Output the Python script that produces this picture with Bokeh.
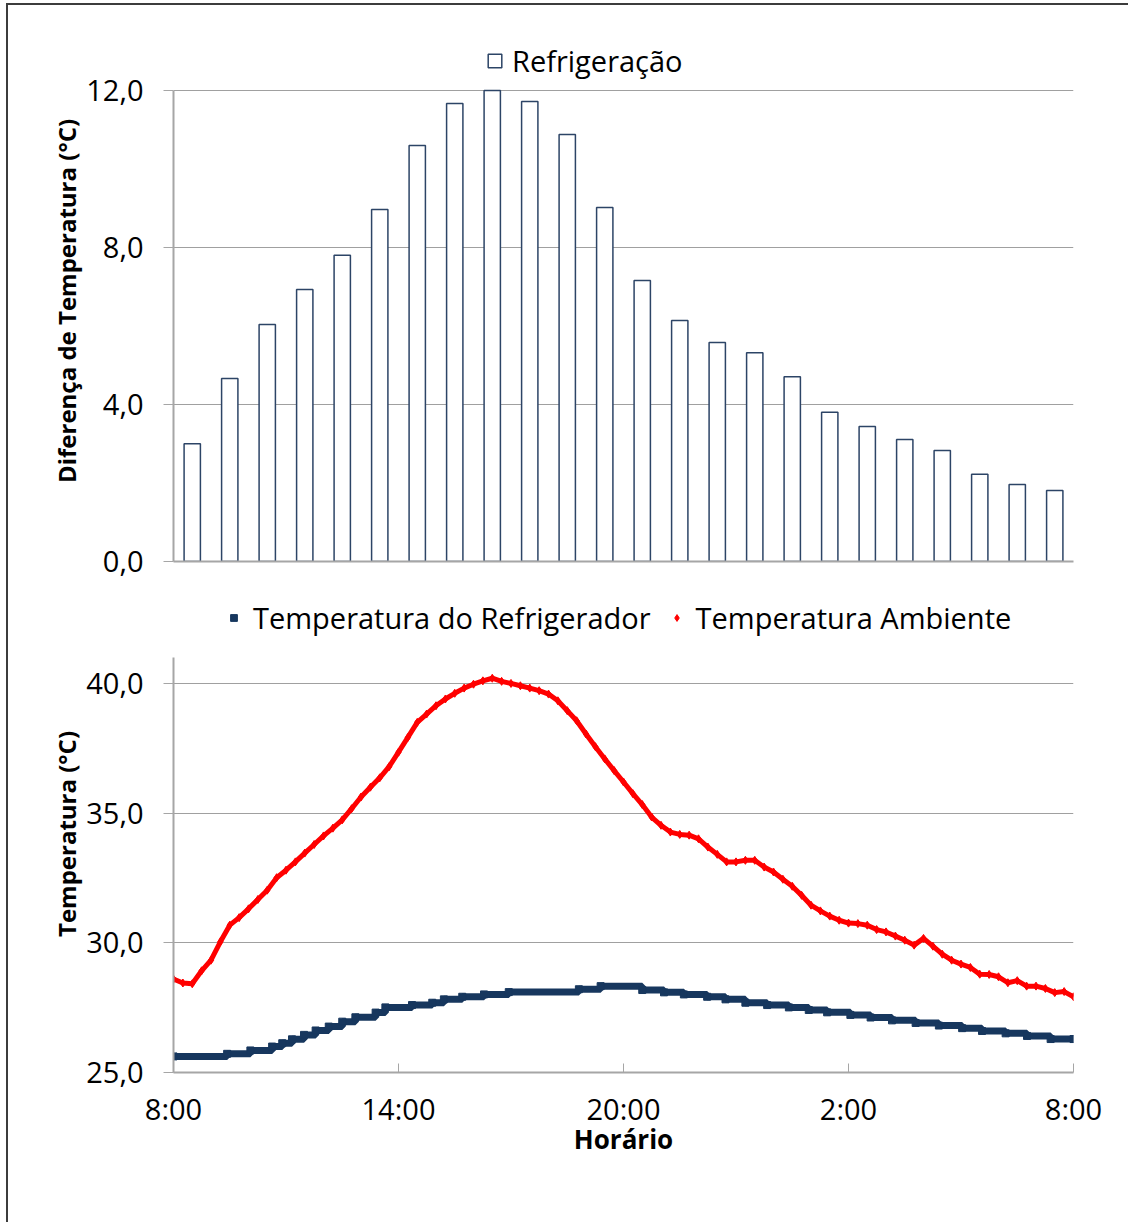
from bokeh.plotting import figure
from bokeh.layouts import column
from bokeh.models import FixedTicker, Legend, LegendItem, Range1d
from bokeh.embed import file_html
from bokeh.resources import INLINE

FONT = "Open Sans"

# ---- top chart data ----
bar_hours = list(range(1, 25))
diff_temp = [3.00, 4.66, 6.04, 6.93, 7.80, 8.97, 10.60, 11.67, 12.00, 11.72, 10.88, 9.02,
             7.16, 6.14, 5.58, 5.32, 4.71, 3.80, 3.44, 3.11, 2.83, 2.22, 1.96, 1.81]
top_y_ticks = [0, 4, 8, 12]
top_y_labels = ["0,0", "4,0", "8,0", "12,0"]

# ---- bottom chart data (hours after 8:00) ----
amb_hours = [0.00, 0.25, 0.50, 0.75, 1.00, 1.25, 1.50, 1.75, 2.00, 2.25, 2.50, 2.75,
             3.00, 3.25, 3.50, 3.75, 4.00, 4.25, 4.50, 4.75, 5.00, 5.25, 5.50, 5.75,
             6.00, 6.25, 6.50, 6.75, 7.00, 7.25, 7.50, 7.75, 8.00, 8.25, 8.50, 8.75,
             9.00, 9.25, 9.50, 9.75, 10.00, 10.25, 10.50, 10.75, 11.00, 11.25, 11.50, 11.75,
             12.00, 12.25, 12.50, 12.75, 13.00, 13.25, 13.50, 13.75, 14.00, 14.25, 14.50, 14.75,
             15.00, 15.25, 15.50, 15.75, 16.00, 16.25, 16.50, 16.75, 17.00, 17.25, 17.50, 17.75,
             18.00, 18.25, 18.50, 18.75, 19.00, 19.25, 19.50, 19.75, 20.00, 20.25, 20.50, 20.75,
             21.00, 21.25, 21.50, 21.75, 22.00, 22.25, 22.50, 22.75, 23.00, 23.25, 23.50, 23.75,
             24.00]
amb_temp = [28.60, 28.45, 28.42, 28.92, 29.33, 30.04, 30.68, 30.97, 31.31, 31.67, 32.03, 32.51,
            32.80, 33.12, 33.46, 33.79, 34.12, 34.42, 34.74, 35.17, 35.62, 36.00, 36.36, 36.79,
            37.35, 37.92, 38.50, 38.82, 39.14, 39.40, 39.62, 39.82, 39.97, 40.10, 40.20, 40.08,
            40.00, 39.91, 39.82, 39.72, 39.59, 39.33, 38.95, 38.56, 38.05, 37.56, 37.09, 36.64,
            36.20, 35.75, 35.33, 34.85, 34.53, 34.27, 34.18, 34.15, 34.01, 33.69, 33.41, 33.12,
            33.12, 33.18, 33.18, 32.92, 32.73, 32.45, 32.18, 31.83, 31.45, 31.23, 31.03, 30.87,
            30.76, 30.74, 30.68, 30.51, 30.42, 30.26, 30.10, 29.91, 30.17, 29.87, 29.56, 29.33,
            29.18, 29.05, 28.79, 28.78, 28.69, 28.46, 28.54, 28.33, 28.33, 28.24, 28.08, 28.12,
            27.92]

fridge_hours = [0.00, 1.43, 2.05, 2.63, 2.90, 3.16, 3.48, 3.79, 4.14, 4.50, 4.85, 5.39, 5.65,
                6.36, 6.90, 7.21, 7.70, 8.28, 8.94, 10.81, 11.39, 12.50, 13.08, 13.61, 14.23,
                14.72, 15.25, 15.83, 16.41, 16.94, 17.43, 18.05, 18.59, 19.16, 19.79, 20.41,
                21.03, 21.56, 22.19, 22.76, 23.39, 24.00]
fridge_temp = [25.62, 25.72, 25.85, 26.00, 26.13, 26.28, 26.45, 26.62, 26.77, 26.96, 27.13, 27.31,
               27.51, 27.60, 27.69, 27.82, 27.92, 28.01, 28.10, 28.21, 28.33, 28.18, 28.09, 28.01,
               27.92, 27.82, 27.69, 27.60, 27.51, 27.41, 27.32, 27.22, 27.12, 27.01, 26.91, 26.81,
               26.71, 26.60, 26.51, 26.41, 26.29, 26.29]

bot_x_ticks = [0, 6, 12, 18, 24]
bot_x_labels = ["8:00", "14:00", "20:00", "2:00", "8:00"]
bot_y_ticks = [25, 30, 35, 40]
bot_y_labels = ["25,0", "30,0", "35,0", "40,0"]

GRID = "#A0A0A0"
AXIS = "#A6A6A6"


def style_axes(p):
    p.outline_line_color = None
    p.xgrid.visible = False
    p.ygrid.grid_line_color = GRID
    p.ygrid.grid_line_width = 1
    for ax in (p.xaxis[0], p.yaxis[0]):
        ax.axis_line_color = AXIS
        ax.axis_line_width = 2
        ax.major_tick_line_color = AXIS
        ax.major_tick_line_width = 1
        ax.minor_tick_line_color = None
        ax.major_label_text_font = FONT
        ax.major_label_text_font_size = "29px"
        ax.major_label_text_color = "#000000"
        ax.axis_label_text_font = FONT
        ax.axis_label_text_font_style = "bold"
        ax.axis_label_text_color = "#000000"
    p.yaxis.major_tick_out = 10
    p.yaxis.major_tick_in = 0
    p.yaxis.major_label_standoff = 20
    p.yaxis.axis_label_text_font_size = "24px"
    p.yaxis.axis_label_standoff = 0


# ---------------- top chart ----------------
# frame extends above the 12,0 line to hold the legend (axis line bounded to 0..12)
p1 = figure(frame_width=900, frame_height=521,
            x_range=Range1d(0.5, 24.5), y_range=Range1d(0, 13.274),
            min_border_left=165, min_border_right=55, min_border_top=35, min_border_bottom=20,
            output_backend="svg", toolbar_location=None)
style_axes(p1)
p1.yaxis.ticker = FixedTicker(ticks=top_y_ticks)
p1.yaxis.major_label_overrides = dict(zip(top_y_ticks, top_y_labels))
p1.yaxis.bounds = (0, 12)
p1.yaxis.axis_label = "Diferença de Temperatura (°C)"
p1.xaxis.ticker = FixedTicker(ticks=[])
p1.xaxis.major_tick_out = 0
p1.xaxis.major_tick_in = 0

bars = p1.vbar(x=bar_hours, top=diff_temp, width=0.435,
               fill_color="white", line_color="#2C4466", line_width=1.5)

leg1 = Legend(items=[LegendItem(label="Refrigeração", renderers=[bars])],
              location=(313, 481), orientation="horizontal",
              border_line_color=None, background_fill_alpha=0,
              padding=0, margin=0, glyph_width=17, glyph_height=17, label_standoff=9,
              label_text_font=FONT, label_text_font_size="29px", label_text_color="#000000")
p1.add_layout(leg1, "center")

# ---------------- bottom chart ----------------
p2 = figure(frame_width=900, frame_height=477,
            x_range=Range1d(0, 24), y_range=Range1d(25, 43.39),
            min_border_left=165, min_border_right=55, min_border_top=14, min_border_bottom=150,
            output_backend="svg", toolbar_location=None)
style_axes(p2)
p2.yaxis.ticker = FixedTicker(ticks=bot_y_ticks)
p2.yaxis.major_label_overrides = dict(zip(bot_y_ticks, bot_y_labels))
p2.yaxis.bounds = (25, 41)
p2.yaxis.axis_label = "Temperatura (°C)"
p2.xaxis.ticker = FixedTicker(ticks=bot_x_ticks)
p2.xaxis.major_label_overrides = dict(zip(bot_x_ticks, bot_x_labels))
p2.xaxis.major_tick_in = 9
p2.xaxis.major_tick_out = 0
p2.xaxis.major_label_standoff = 16
p2.xaxis.axis_label = "Horário"
p2.xaxis.axis_label_text_font_size = "26px"
p2.xaxis.axis_label_standoff = -10

BLUE = "#17375E"
RED = "#FF0000"
p2.step(fridge_hours, fridge_temp, mode="after", line_color=BLUE, line_width=7)
fridge_pts = p2.scatter(fridge_hours, fridge_temp, marker="square", size=7, color=BLUE)
p2.line(amb_hours, amb_temp, line_color=RED, line_width=5)
amb_pts = p2.scatter(amb_hours, amb_temp, marker="diamond", size=8, color=RED)

leg2 = Legend(items=[LegendItem(label="Temperatura do Refrigerador", renderers=[fridge_pts]),
                     LegendItem(label="Temperatura Ambiente", renderers=[amb_pts])],
              location=(52, 435), orientation="horizontal",
              border_line_color=None, background_fill_alpha=0,
              padding=0, margin=0, spacing=17, glyph_width=17, glyph_height=17, label_standoff=11,
              label_text_font=FONT, label_text_font_size="29px", label_text_color="#000000")
p2.add_layout(leg2, "center")

layout = column(p1, p2, styles={"border-left": "2px solid #3C3C3C",
                                "border-top": "2px solid #3C3C3C",
                                "margin-left": "6px", "margin-top": "3px"})

open("out.html", "w").write(file_html(layout, INLINE))
